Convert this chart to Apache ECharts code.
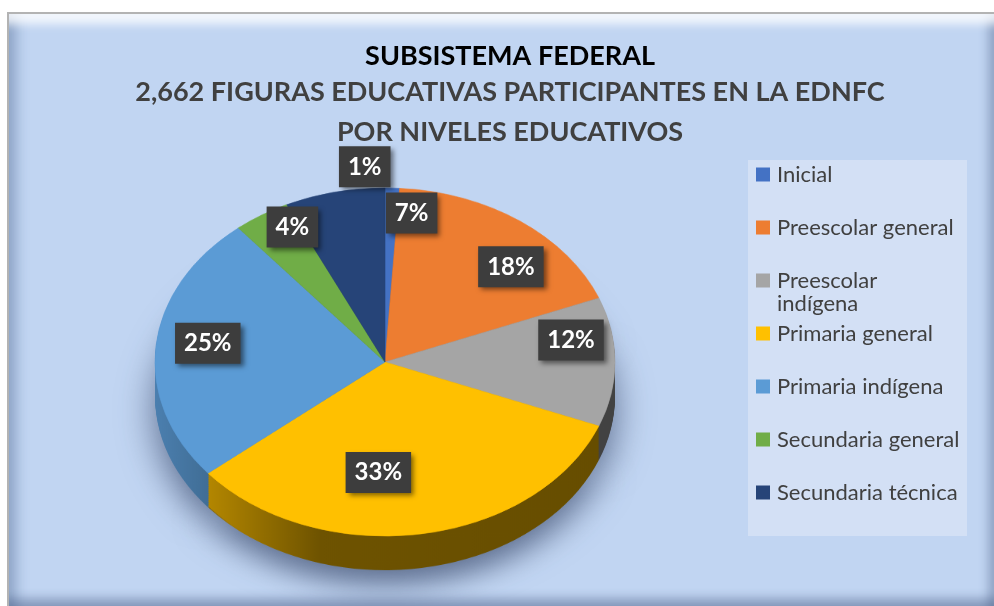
<!DOCTYPE html>
<html><head><meta charset="utf-8">
<script src="https://cdn.jsdelivr.net/npm/echarts@6/dist/echarts.min.js"></script>
<style>
html,body{margin:0;padding:0;background:#fff;width:994px;height:606px;overflow:hidden;}
#frame{position:absolute;left:7px;top:12px;width:987px;height:594px;box-sizing:border-box;
  border-top:2px solid #b3b3b3;border-left:2px solid #b3b3b3;background:#c1d5f2;
  box-shadow: inset 0 18px 10px -8px rgba(255,255,255,0.8), inset 18px 0 12px -10px rgba(60,85,130,0.35),
              inset 0 -14px 10px -6px rgba(60,80,120,0.4), inset -12px 0 10px -6px rgba(60,80,120,0.35);}
#pie{position:absolute;left:0;top:0;width:994px;height:900px;transform-origin:0 362px;transform:scaleY(0.757);}
#main{position:absolute;left:0;top:0;width:994px;height:606px;}
</style></head><body>
<div id="frame"></div><div id="pie"></div><div id="main"></div>
<script>
// ---- data ----
const categories = ['Inicial','Preescolar general','Preescolar indígena','Primaria general','Primaria indígena','Secundaria general','Secundaria técnica'];
const values = [27, 479, 319, 878, 666, 106, 187];
const colors = ['#4472C4','#ED7D31','#A5A5A5','#FFC000','#5B9BD5','#70AD47','#264478'];
const titleText = 'SUBSISTEMA FEDERAL';
const subtitleText = '2,662 FIGURAS EDUCATIVAS PARTICIPANTES EN LA EDNFC\nPOR NIVELES EDUCATIVOS';

// ---- layout / style ----
const FONT = 'Lato, "Liberation Sans", sans-serif';
const CX = 385, CY = 362, R = 230, S = 0.757, DEPTH = 45, LAYERS = 30;
const CYL = 344, RHO = 180;
const labelNudge = [[-26,-41],[20,33],[6,-4],[-35,-6],[2,12],[4,-2],[66,2]];

const total = values.reduce((a,b)=>a+b,0);
const midAngles = [];
{ let cum = 0; values.forEach(v => { midAngles.push(90 - 360*(cum + v/2)/total); cum += v; }); }

function shade(hex, f){
  const n = parseInt(hex.slice(1),16);
  const r = Math.round(((n>>16)&255)*f), g = Math.round(((n>>8)&255)*f), b = Math.round((n&255)*f);
  return 'rgb('+r+','+g+','+b+')';
}
function sideGrad(c){
  return {type:'linear', global:true, x:CX-R, y:0, x2:CX+R, y2:0,
    colorStops:[{offset:0,color:shade(c,0.82)},{offset:0.1,color:shade(c,0.72)},{offset:0.36,color:shade(c,0.43)},{offset:1,color:shade(c,0.4)}]};
}

// ---- pie (3D look via stacked layers, squashed with CSS) ----
const pieChart = echarts.init(document.getElementById('pie'), null, {renderer:'canvas'});
const pieSeries = [];
for (let k = LAYERS; k >= 1; k--) {
  const dy = DEPTH*k/LAYERS;
  pieSeries.push({
    type:'pie', center:[CX, CY+dy], radius:R, startAngle:90, clockwise:true, silent:true,
    animation:false, z: LAYERS-k+1, label:{show:false}, labelLine:{show:false},
    emphasis:{disabled:true},
    itemStyle: k===LAYERS ? {shadowBlur:36, shadowColor:'rgba(30,45,80,0.6)', shadowOffsetY:20, borderWidth:0} : {borderWidth:0},
    data: values.map((v,i)=>({name:categories[i], value:v, itemStyle:{color:sideGrad(colors[i])}}))
  });
}
pieSeries.push({
  type:'pie', center:[CX, CY], radius:R, startAngle:90, clockwise:true, silent:true,
  animation:false, z: LAYERS+2, label:{show:false}, labelLine:{show:false},
  emphasis:{disabled:true}, itemStyle:{borderWidth:0.6},
  data: values.map((v,i)=>({name:categories[i], value:v, itemStyle:{color:colors[i], borderColor:colors[i]}}))
});
pieChart.setOption({animation:false, series:pieSeries});

// ---- overlay: title, legend, labels ----
const main = echarts.init(document.getElementById('main'), null, {renderer:'canvas'});
const rich = {g:{width:7}, s:{width:21}};
colors.forEach((c,i)=>{ rich['sq'+i] = {width:14, height:14, backgroundColor:c}; });
main.setOption({
  animation:false,
  backgroundColor:'transparent',
  title:{
    text:titleText, subtext:subtitleText, left:510, top:40, textAlign:'center', padding:0, itemGap:0,
    textStyle:{fontFamily:FONT, fontSize:27, fontWeight:'bold', color:'#000', lineHeight:32},
    subtextStyle:{fontFamily:FONT, fontSize:27, fontWeight:'bold', color:'#404040', lineHeight:40}
  },
  graphic:[{type:'rect', z:-1, silent:true, shape:{x:748, y:160, width:219, height:376}, style:{fill:'#d3e0f5'}}],
  legend:{
    orient:'vertical', left:751, top:163, padding:0, itemGap:7, itemWidth:0, itemHeight:0,
    selectedMode:false, data:categories,
    formatter: function(name){
      const i = categories.indexOf(name);
      if (name === 'Preescolar indígena') return '{sq'+i+'| }{g| }Preescolar\n{s| }indígena';
      return '{sq'+i+'| }{g| }'+name+'\n ';
    },
    textStyle:{fontFamily:FONT, fontSize:22, color:'#404040', lineHeight:23, rich:rich}
  },
  series:[{
    type:'pie', center:[CX, CYL], radius:R, startAngle:90, clockwise:true, silent:true,
    itemStyle:{color:'transparent'}, emphasis:{disabled:true},
    label:{show:true, position:'inside', formatter:p=>Math.round(p.value/total*100)+'%',
      fontFamily:FONT, fontSize:24, fontWeight:'bold', color:'#fff', lineHeight:25,
      backgroundColor:'#3d3d3d', padding:[8,9,8,9],
      shadowColor:'rgba(0,0,0,0.5)', shadowBlur:5, shadowOffsetX:3, shadowOffsetY:3},
    labelLine:{show:false},
    labelLayout: function(p){
      const i = p.dataIndex, a = midAngles[i]*Math.PI/180;
      return {x: CX + RHO*Math.cos(a) + labelNudge[i][0], y: CYL - S*RHO*Math.sin(a) + labelNudge[i][1], align:'center', verticalAlign:'middle'};
    },
    data: values.map((v,i)=>({name:categories[i], value:v}))
  }]
});
</script>
</body></html>
